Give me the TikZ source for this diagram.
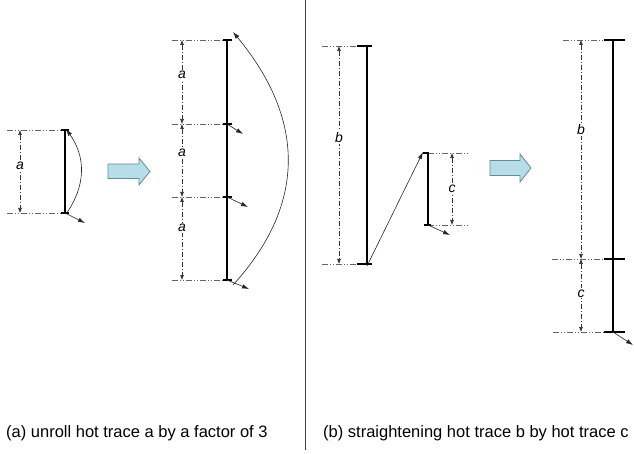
\documentclass[tikz,border=0pt]{standalone}
\usepackage{fontspec}
\setmainfont{Liberation Sans}
\usetikzlibrary{arrows.meta}
\definecolor{arrowfill}{RGB}{183,222,232}
\definecolor{arrowdraw}{RGB}{100,140,150}
\begin{document}
\begin{tikzpicture}[x=1pt,y=-1pt,
  trace/.style={line width=2pt, black},
  tickmark/.style={line width=1.3pt, black},
  extline/.style={black!60, line width=0.6pt, dash pattern=on 6pt off 2pt on 1pt off 2pt on 1pt off 2pt},
  dimline/.style={black!80, line width=0.6pt, dash pattern=on 5pt off 2pt on 1pt off 2pt, {Latex[length=5pt,width=4pt]}-{Latex[length=5pt,width=4pt]}},
  dimlabel/.style={fill=white, text=black, inner sep=1pt, font=\fontsize{14}{14}\selectfont\itshape},
  flowarrow/.style={black!85, line width=0.6pt, -{Latex[length=7pt,width=4.5pt]}},
  blockarrow/.style={draw=arrowdraw, fill=arrowfill, line width=0.8pt},
  divider/.style={black!75, line width=1pt},
  captiontext/.style={anchor=west, inner sep=0pt, text=black, font=\fontsize{16.5}{18}\selectfont}
]
\useasboundingbox (0,0) rectangle (634,454);
\clip (0,0) rectangle (634,454);

% ---------- panel (a): small trace ----------
\coordinate (a1t) at (65,130);
\coordinate (a1b) at (65,213);
\coordinate (e1t) at (7,130);
\coordinate (e1b) at (7,213);
\coordinate (d1t) at (20,130);
\coordinate (d1b) at (20,213);
\coordinate (a1o) at (85,223);
\draw[extline] (e1t) -- (a1t);
\draw[extline] (e1b) -- (a1b);
\draw[trace] (a1t) -- (a1b);
\draw[tickmark] ([xshift=-4]a1t) -- ([xshift=4]a1t);
\draw[tickmark] ([xshift=-4]a1b) -- ([xshift=4]a1b);
\draw[dimline] (d1t) -- node[dimlabel, pos=0.43] (la1) {a} (d1b);
\draw[flowarrow] ([xshift=1pt,yshift=-1pt]a1b) .. controls (86,186) and (86,157) .. ([xshift=1pt,yshift=1pt]a1t);
\draw[flowarrow] (a1b) -- (a1o);

% ---------- block arrow (a) ----------
\draw[blockarrow] (108,164) -- (139,164) -- (139,158) -- (150,171.5) -- (139,185) -- (139,178.5) -- (108,178.5) -- cycle;

% ---------- panel (a): unrolled trace ----------
\coordinate (a2t) at (227,40);
\coordinate (a2m1) at (227,124);
\coordinate (a2m2) at (227,197);
\coordinate (a2b) at (227,280);
\coordinate (e2t) at (172,40);
\coordinate (e2m1) at (172,124);
\coordinate (e2m2) at (172,197);
\coordinate (e2b) at (172,280);
\coordinate (d2t) at (182,40);
\coordinate (d2m1) at (182,124);
\coordinate (d2m2) at (182,197);
\coordinate (d2b) at (182,280);
\coordinate (o2m1) at (243,134);
\coordinate (o2m2) at (248,207);
\coordinate (o2b) at (249,289);
\draw[extline] (e2t) -- (a2t);
\draw[extline] (e2m1) -- (a2m1);
\draw[extline] (e2m2) -- (a2m2);
\draw[extline] (e2b) -- (a2b);
\draw[trace] (a2t) -- (a2b);
\foreach \p in {a2t,a2m1,a2m2,a2b}
  \draw[tickmark] ([xshift=-4]\p) -- ([xshift=5]\p);
\draw[dimline] (d2t) -- node[dimlabel, pos=0.42] (la2) {a} (d2m1);
\draw[dimline] (d2m1) -- node[dimlabel, pos=0.40] (la3) {a} (d2m2);
\draw[dimline] (d2m2) -- node[dimlabel, pos=0.37] (la4) {a} (d2b);
\draw[flowarrow] (a2m1) -- (o2m1);
\draw[flowarrow] (a2m2) -- (o2m2);
\draw[flowarrow] (a2b) -- (o2b);
\draw[flowarrow] ([xshift=6pt,yshift=-5pt]a2b) .. controls (306,205) and (306,120) .. ([xshift=6pt,yshift=8pt]a2t);

% ---------- divider ----------
\coordinate (divt) at (305,0);
\coordinate (divb) at (305,450);
\draw[divider] (divt) -- (divb);

% ---------- panel (b): traces b and c ----------
\coordinate (bt) at (367,46);
\coordinate (bb) at (367,264);
\coordinate (ebt) at (322,46);
\coordinate (ebb) at (322,264);
\coordinate (dbt) at (339,46);
\coordinate (dbb) at (339,264);
\draw[extline] (ebt) -- ([xshift=-10]bt);
\draw[extline] (ebb) -- ([xshift=-10]bb);
\draw[trace] (bt) -- (bb);
\draw[tickmark] ([xshift=-10]bt) -- ([xshift=5]bt);
\draw[tickmark] ([xshift=-10]bb) -- ([xshift=5]bb);
\draw[dimline] (dbt) -- node[dimlabel, pos=0.42] (lb1) {b} (dbb);

\coordinate (ct) at (428,153);
\coordinate (cb) at (428,225);
\coordinate (ect) at (469,153);
\coordinate (ecb) at (469,225);
\coordinate (dct) at (452,153);
\coordinate (dcb) at (452,225);
\coordinate (oc) at (450,235);
\draw[extline] (ct) -- (ect);
\draw[extline] (cb) -- (ecb);
\draw[trace] (ct) -- (cb);
\draw[tickmark] ([xshift=-5]ct) -- ([xshift=1]ct);
\draw[tickmark] ([xshift=-4]cb) -- ([xshift=3]cb);
\draw[dimline] (dct) -- node[dimlabel, pos=0.5] (lc1) {c} (dcb);
\draw[flowarrow] ([yshift=-2pt]bb) -- ([xshift=-5pt,yshift=1pt]ct);
\draw[flowarrow] (cb) -- (oc);

% ---------- block arrow (b) ----------
\draw[blockarrow] (490,160.5) -- (520,160.5) -- (520,154) -- (531,168) -- (520,182) -- (520,175.5) -- (490,175.5) -- cycle;

% ---------- panel (b): straightened trace ----------
\coordinate (b2t) at (613,40);
\coordinate (b2m) at (613,259);
\coordinate (b2b) at (613,332);
\coordinate (eb2t) at (563,40);
\coordinate (eb2m) at (552,259);
\coordinate (eb2b) at (553,332);
\coordinate (db2t) at (581,40);
\coordinate (db2m) at (581,259);
\coordinate (db2b) at (581,332);
\coordinate (ob2) at (633,345);
\draw[extline] (eb2t) -- (b2t);
\draw[extline] (eb2m) -- (b2m);
\draw[extline] (eb2b) -- (b2b);
\draw[trace] (b2t) -- (b2b);
\foreach \p in {b2t,b2m,b2b}
  \draw[tickmark] ([xshift=-9]\p) -- ([xshift=12]\p);
\draw[dimline] (db2t) -- node[dimlabel, pos=0.41] (lb2) {b} (db2m);
\draw[dimline] (db2m) -- node[dimlabel, pos=0.47] (lc2) {c} (db2b);
\draw[flowarrow] (b2b) -- (ob2);

% ---------- captions ----------
\node[captiontext] (capa) at (6,433) {(a) unroll hot trace a by a factor of 3};
\node[captiontext] (capb) at (323,433) {(b) straightening hot trace b by hot trace c};
\end{tikzpicture}
\end{document}
